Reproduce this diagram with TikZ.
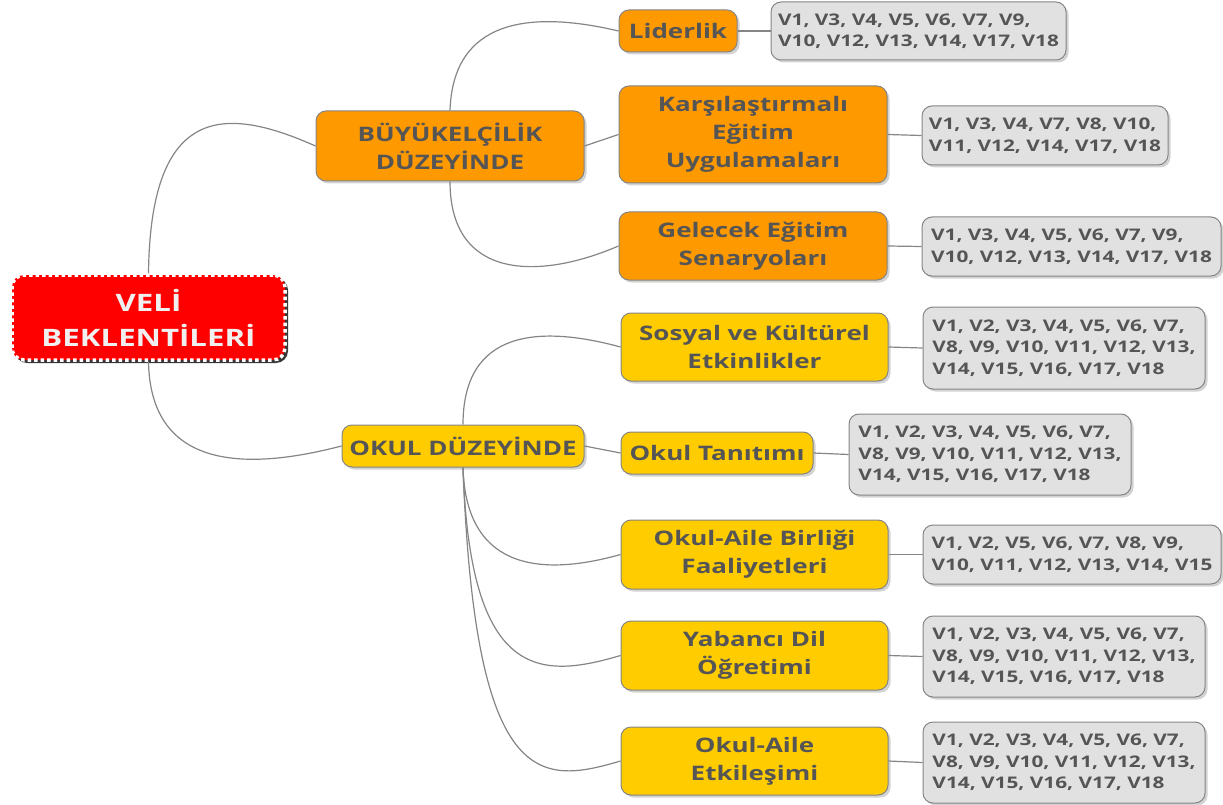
\documentclass[tikz,border=0pt]{standalone}
\usepackage{fontspec}
\newfontfamily\mapfont[FakeStretch=1.3]{Open Sans}
\usetikzlibrary{shadows}
\definecolor{rootred}{HTML}{FF0000}
\definecolor{mainorange}{HTML}{FF9900}
\definecolor{mainyellow}{HTML}{FFCC00}
\definecolor{leafgray}{HTML}{E1E1E1}
\definecolor{textgray}{HTML}{555555}
\definecolor{linegray}{HTML}{858585}
\tikzstyle{box}=[rounded corners=10pt, draw=linegray, line width=1pt, align=center, inner sep=0pt, text=textgray,
  drop shadow={shadow xshift=2.5pt, shadow yshift=-2.5pt, opacity=0.35}]
\tikzstyle{central}=[box, fill=rootred, draw=white, dash pattern=on 3.5pt off 3pt, line width=3.5pt, rounded corners=12pt,
  text=white!94!black, font=\mapfont\bfseries\fontsize{24}{35}\selectfont,
  drop shadow={shadow xshift=3pt, shadow yshift=-3pt, opacity=0.75, fill=black}]
\tikzstyle{orangebox}=[box, fill=mainorange, font=\mapfont\bfseries\fontsize{20}{28}\selectfont]
\tikzstyle{yellowbox}=[box, fill=mainyellow, font=\mapfont\bfseries\fontsize{20}{28}\selectfont]
\tikzstyle{leafbox}=[box, fill=leafgray, align=left, font=\mapfont\bfseries\fontsize{16}{21.5}\selectfont]
\tikzstyle{link}=[draw=linegray, line width=1.2pt]
\begin{document}
\begin{tikzpicture}[x=1pt, y=-1pt]
\useasboundingbox (0,0) rectangle (1223,805);
% main topics
\node[central, minimum width=273pt, minimum height=85pt] (root) at (148.5,317.5) {VELİ\\BEKLENTİLERİ};
\node[orangebox, minimum width=268pt, minimum height=70pt] (buyuk) at (450,146) {BÜYÜKELÇİLİK\\DÜZEYİNDE};
\node[yellowbox, minimum width=242pt, minimum height=42pt] (okul) at (463,446) {OKUL DÜZEYİNDE};
% subtopics
\node[orangebox, minimum width=118pt, minimum height=42pt] (lider) at (678,31) {Liderlik};
\node[orangebox, minimum width=268pt, minimum height=97pt] (karsi) at (753,134.5) {Karşılaştırmalı\\Eğitim\\Uygulamaları};
\node[orangebox, minimum width=268pt, minimum height=68pt] (gelecek) at (753,246) {Gelecek Eğitim\\Senaryoları};
\node[yellowbox, minimum width=267pt, minimum height=68pt] (sosyal) at (754.5,347) {Sosyal ve Kültürel\\Etkinlikler};
\node[yellowbox, minimum width=192pt, minimum height=42pt] (tanitim) at (717,453) {Okul Tanıtımı};
\node[yellowbox, minimum width=267pt, minimum height=69pt] (birlik) at (754.5,554.5) {Okul-Aile Birliği\\Faaliyetleri};
\node[yellowbox, minimum width=267pt, minimum height=69pt] (yabanci) at (754.5,655.5) {Yabancı Dil\\Öğretimi};
\node[yellowbox, minimum width=267pt, minimum height=68pt] (etkilesim) at (754.5,761) {Okul-Aile\\Etkileşimi};
% participant lists
\node[leafbox, minimum width=295pt, minimum height=58pt] (vLider) at (918.5,31) {V1, V3, V4, V5, V6, V7, V9,\\V10, V12, V13, V14, V17, V18};
\node[leafbox, minimum width=246pt, minimum height=59pt] (vKarsi) at (1045,135.5) {V1, V3, V4, V7, V8, V10,\\V11, V12, V14, V17, V18};
\node[leafbox, minimum width=299pt, minimum height=59pt] (vGelecek) at (1071.5,246.5) {V1, V3, V4, V5, V6, V7, V9,\\V10, V12, V13, V14, V17, V18};
\node[leafbox, minimum width=282pt, minimum height=82pt] (vSosyal) at (1064,348) {V1, V2, V3, V4, V5, V6, V7,\\V8, V9, V10, V11, V12, V13,\\V14, V15, V16, V17, V18};
\node[leafbox, minimum width=282pt, minimum height=81pt] (vTanitim) at (990,454.5) {V1, V2, V3, V4, V5, V6, V7,\\V8, V9, V10, V11, V12, V13,\\V14, V15, V16, V17, V18};
\node[leafbox, minimum width=298pt, minimum height=59pt] (vBirlik) at (1072,554.5) {V1, V2, V5, V6, V7, V8, V9,\\V10, V11, V12, V13, V14, V15};
\node[leafbox, minimum width=282pt, minimum height=81pt] (vYabanci) at (1064,656.5) {V1, V2, V3, V4, V5, V6, V7,\\V8, V9, V10, V11, V12, V13,\\V14, V15, V16, V17, V18};
\node[leafbox, minimum width=282pt, minimum height=81pt] (vEtkilesim) at (1064,762.5) {V1, V2, V3, V4, V5, V6, V7,\\V8, V9, V10, V11, V12, V13,\\V14, V15, V16, V17, V18};
% branches
\draw[link] (root.north) .. controls +(2,-170) and +(-90,-40) .. (buyuk.west);
\draw[link] (root.south) .. controls +(2,110) and +(-92,24) .. (okul.west);
\draw[link] (buyuk.north) .. controls +(3,-91) and +(-89,-21) .. (lider.west);
\draw[link] (buyuk.east) -- (karsi.west);
\draw[link] (buyuk.south) .. controls +(0,99) and +(-79,34) .. (gelecek.west);
\draw[link] (okul.north) .. controls +(0,-95) and +(-81,-22) .. (sosyal.west);
\draw[link] (okul.east) -- (tanitim.west);
\draw[link] (okul.south) .. controls +(3,108) and +(-71,20) .. (birlik.west);
\draw[link] (okul.south) .. controls +(7,213) and +(-81,24) .. (yabanci.west);
\draw[link] (okul.south) .. controls +(12,323) and +(-81,24) .. (etkilesim.west);
\foreach \a/\b in {lider/vLider, karsi/vKarsi, gelecek/vGelecek, sosyal/vSosyal, tanitim/vTanitim,
  birlik/vBirlik, yabanci/vYabanci, etkilesim/vEtkilesim}
  \draw[link] (\a.east) -- (\b.west);
\end{tikzpicture}
\end{document}
